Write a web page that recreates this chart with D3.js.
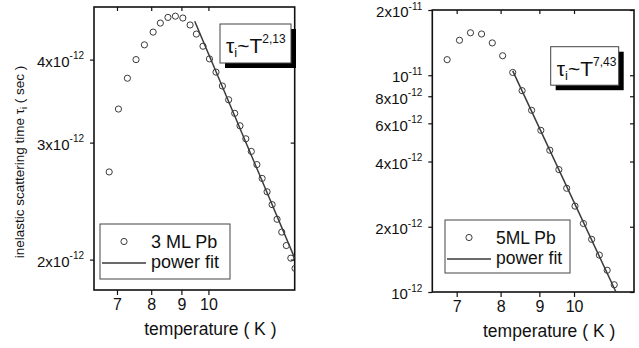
<!DOCTYPE html>
<html>
<head>
<meta charset="utf-8">
<script src="https://cdn.jsdelivr.net/npm/d3@7"></script>
<style>
body { margin: 0; background: #fff; }
svg { font-family: "Liberation Sans", Arial, sans-serif; }
</style>
</head>
<body>
<svg width="639" height="348"></svg>
<script>
// 3 ML Pb : temperature (K) and inelastic scattering time (s)
var temp3 = [6.79, 7.04, 7.29, 7.54, 7.79, 8.06, 8.29, 8.54, 8.79, 9.05, 9.31, 9.54, 9.79, 10.04, 10.30,
             10.56, 10.82, 11.08, 11.31, 11.57, 11.82, 12.08, 12.33, 12.57, 12.82, 13.07, 13.31, 13.55, 13.79, 14.02];
var tau3 = [2.71e-12, 3.37e-12, 3.75e-12, 4.00e-12, 4.21e-12, 4.40e-12, 4.54e-12, 4.63e-12, 4.65e-12, 4.62e-12,
            4.51e-12, 4.37e-12, 4.19e-12, 4.01e-12, 3.83e-12, 3.65e-12, 3.48e-12, 3.32e-12, 3.18e-12, 3.04e-12,
            2.91e-12, 2.78e-12, 2.65e-12, 2.53e-12, 2.42e-12, 2.30e-12, 2.20e-12, 2.10e-12, 2.01e-12, 1.94e-12];
var fitTemp3 = [9.48, 14.0];
var fitTau3 = [4.57e-12, 2.01e-12];

// 5 ML Pb
var temp5 = [6.80, 7.06, 7.30, 7.55, 7.80, 8.05, 8.30, 8.54, 8.79, 9.04, 9.29, 9.55, 9.78, 10.03, 10.29,
             10.55, 10.80, 11.06, 11.30];
var tau5 = [1.18e-11, 1.45e-11, 1.57e-11, 1.55e-11, 1.41e-11, 1.23e-11, 1.03e-11, 8.49e-12, 6.89e-12, 5.57e-12,
            4.51e-12, 3.67e-12, 3.01e-12, 2.49e-12, 2.07e-12, 1.75e-12, 1.48e-12, 1.26e-12, 1.08e-12];
var fitTemp5 = [8.30, 11.36];
var fitTau5 = [1.047e-11, 1.00e-12];

// ticks
var xTicks = [7, 8, 9, 10];
var yTicks3 = [2e-12, 3e-12, 4e-12];
var yTickBase3 = ["2x10", "3x10", "4x10"];
var yTickExp3 = ["-12", "-12", "-12"];
var yTicks5 = [1e-12, 2e-12, 4e-12, 6e-12, 8e-12, 1e-11, 2e-11];
var yTickBase5 = ["10", "2x10", "4x10", "6x10", "8x10", "10", "2x10"];
var yTickExp5 = ["-12", "-12", "-12", "-12", "-12", "-11", "-11"];

var svg = d3.select("svg");

drawPanel(svg, {
	id: "p3",
	temp: temp3, tau: tau3, fitTemp: fitTemp3, fitTau: fitTau3,
	xDomain: [6.4, 14], xRange: [94, 294.7],
	yDomain: [1.8e-12, 4.8e-12], yRange: [290, 7],
	yTicks: yTicks3, yBase: yTickBase3, yExp: yTickExp3,
	legendName: "3 ML Pb", legendBox: [100, 224, 130, 55], legendFont: 18,
	exponent: "2,13", noteBox: [220, 24, 71, 39]
});

drawPanel(svg, {
	id: "p5",
	temp: temp5, tau: tau5, fitTemp: fitTemp5, fitTau: fitTau5,
	xDomain: [6.5, 12], xRange: [432.3, 634],
	yDomain: [1e-12, 2e-11], yRange: [292, 10],
	yTicks: yTicks5, yBase: yTickBase5, yExp: yTickExp5,
	legendName: "5ML Pb", legendBox: [445, 220, 125, 53], legendFont: 17.5,
	exponent: "7,43", noteBox: [550.7, 46.7, 68, 38.5]
});

// y axis title on the left panel
var ytitle = svg.append("text")
	.attr("transform", "translate(24,162) rotate(-90)")
	.attr("text-anchor", "middle")
	.attr("font-size", "13.5px")
	.attr("fill", "#111");
ytitle.append("tspan").text("inelastic scattering time \u03c4");
ytitle.append("tspan").attr("font-size", "9px").attr("dy", "3").text("i");
ytitle.append("tspan").attr("dy", "-3").text(" ( sec )");

function drawPanel(svg, p) {
	var x = d3.scaleLog().domain(p.xDomain).range(p.xRange);
	var y = d3.scaleLog().domain(p.yDomain).range(p.yRange);
	var x0 = p.xRange[0], x1 = p.xRange[1], y0 = p.yRange[1], y1 = p.yRange[0];

	var g = svg.append("g");

	g.append("clipPath").attr("id", "clip-" + p.id)
		.append("rect")
		.attr("x", x0).attr("y", y0)
		.attr("width", x1 - x0).attr("height", y1 - y0);

	// bottom axis, ticks outward
	var gx = g.append("g")
		.attr("transform", "translate(0," + y1 + ")")
		.call(d3.axisBottom(x).tickValues(xTicks).tickFormat(d3.format("d")).tickSizeInner(5).tickSizeOuter(0).tickPadding(4));
	gx.selectAll("text").attr("font-size", "16px").attr("fill", "#111").attr("font-family", null);

	// top axis, ticks inward
	g.append("g")
		.attr("transform", "translate(0," + y0 + ")")
		.call(d3.axisTop(x).tickValues(xTicks).tickFormat("").tickSizeInner(-4).tickSizeOuter(0));

	// left axis with superscript labels
	var gy = g.append("g")
		.attr("transform", "translate(" + x0 + ",0)")
		.call(d3.axisLeft(y).tickValues(p.yTicks).tickSizeInner(4).tickSizeOuter(0).tickPadding(6));
	gy.selectAll(".tick text").each(function(d, i) {
		var t = d3.select(this).text(null)
			.attr("font-size", "15px").attr("fill", "#111").attr("dy", "0.45em");
		t.append("tspan").text(p.yBase[i]);
		t.append("tspan").attr("font-size", "10px").attr("dy", "-0.75em").text(p.yExp[i]);
	});

	// right axis, ticks inward
	g.append("g")
		.attr("transform", "translate(" + x1 + ",0)")
		.call(d3.axisRight(y).tickValues(p.yTicks).tickFormat("").tickSizeInner(-4).tickSizeOuter(0));

	g.selectAll(".domain").attr("stroke", "none");
	g.selectAll(".tick line").attr("stroke", "#111").attr("stroke-width", 1.2);

	// frame
	g.append("rect")
		.attr("x", x0).attr("y", y0)
		.attr("width", x1 - x0).attr("height", y1 - y0)
		.attr("fill", "none").attr("stroke", "#111").attr("stroke-width", 1.6);

	var plot = g.append("g").attr("clip-path", "url(#clip-" + p.id + ")");

	// power fit line
	var fit = p.fitTemp.map(function(t, i) { return [t, p.fitTau[i]]; });
	plot.append("path")
		.datum(fit)
		.attr("fill", "none")
		.attr("stroke", "#3a3a3a")
		.attr("stroke-width", 1.5)
		.attr("d", d3.line().x(function(d) { return x(d[0]); }).y(function(d) { return y(d[1]); }));

	// measured points
	plot.selectAll("circle")
		.data(p.temp.map(function(t, i) { return [t, p.tau[i]]; }))
		.enter().append("circle")
		.attr("cx", function(d) { return x(d[0]); })
		.attr("cy", function(d) { return y(d[1]); })
		.attr("r", 3.1)
		.attr("fill", "none")
		.attr("stroke", "#3a3a3a")
		.attr("stroke-width", 1);

	// legend
	var lb = p.legendBox;
	var legend = g.append("g").attr("font-size", p.legendFont + "px").attr("fill", "#111");
	legend.append("rect")
		.attr("x", lb[0]).attr("y", lb[1]).attr("width", lb[2]).attr("height", lb[3])
		.attr("fill", "#fff").attr("stroke", "#444").attr("stroke-width", 1);
	legend.append("circle")
		.attr("cx", lb[0] + 24).attr("cy", lb[1] + 17.5).attr("r", 3.1)
		.attr("fill", "none").attr("stroke", "#3a3a3a");
	legend.append("text").attr("x", lb[0] + 51).attr("y", lb[1] + 24).text(p.legendName);
	legend.append("line")
		.attr("x1", lb[0] + 2).attr("x2", lb[0] + 46)
		.attr("y1", lb[1] + 39).attr("y2", lb[1] + 39)
		.attr("stroke", "#3a3a3a").attr("stroke-width", 1.5);
	legend.append("text").attr("x", lb[0] + 51).attr("y", lb[1] + 44).text("power fit");

	// annotation box with drop shadow
	var nb = p.noteBox;
	var note = g.append("g");
	note.append("rect")
		.attr("x", nb[0] + 5).attr("y", nb[1] + 5).attr("width", nb[2]).attr("height", nb[3])
		.attr("fill", "#000");
	note.append("rect")
		.attr("x", nb[0]).attr("y", nb[1]).attr("width", nb[2]).attr("height", nb[3])
		.attr("fill", "#fff").attr("stroke", "#444").attr("stroke-width", 1);
	var nt = note.append("text")
		.attr("x", nb[0] + 6).attr("y", nb[1] + 29)
		.attr("font-size", "21px").attr("fill", "#111");
	nt.append("tspan").text("\u03c4");
	nt.append("tspan").attr("font-size", "13px").attr("dy", "4").text("i");
	nt.append("tspan").attr("dy", "-4").text("~T");
	nt.append("tspan").attr("font-size", "12px").attr("dy", "-10").text(p.exponent);

	// x axis title
	svg.append("text")
		.attr("x", (x0 + x1) / 2 + 16)
		.attr("y", y1 + 45)
		.attr("text-anchor", "middle")
		.attr("font-size", "17.5px")
		.attr("fill", "#111")
		.text("temperature ( K )");
}
</script>
</body>
</html>
